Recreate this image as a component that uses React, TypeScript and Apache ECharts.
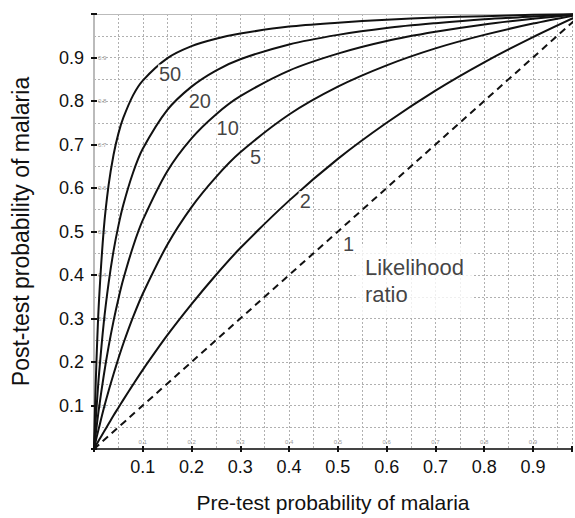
import React, { useEffect, useRef } from "react";
import * as echarts from "echarts";

// Pre-test probability (x) sample points
const pre = [0, 0.0025, 0.005, 0.01, 0.02, 0.03, 0.04, 0.05, 0.06, 0.08, 0.1, 0.15, 0.2, 0.25, 0.3, 0.4, 0.5, 0.6, 0.7, 0.8, 0.9, 1.0];
// Post-test probability for each likelihood ratio
const lr50 = [0, 0.111, 0.201, 0.336, 0.505, 0.607, 0.676, 0.725, 0.761, 0.813, 0.847, 0.898, 0.926, 0.943, 0.955, 0.971, 0.98, 0.987, 0.992, 0.995, 0.998, 1];
const lr20 = [0, 0.048, 0.091, 0.168, 0.29, 0.382, 0.455, 0.513, 0.561, 0.635, 0.69, 0.779, 0.833, 0.87, 0.896, 0.93, 0.952, 0.968, 0.979, 0.988, 0.994, 1];
const lr10 = [0, 0.024, 0.048, 0.092, 0.169, 0.236, 0.294, 0.345, 0.39, 0.465, 0.526, 0.638, 0.714, 0.769, 0.811, 0.87, 0.909, 0.938, 0.959, 0.976, 0.989, 1];
const lr5 = [0, 0.012, 0.025, 0.048, 0.093, 0.134, 0.172, 0.208, 0.242, 0.303, 0.357, 0.469, 0.556, 0.625, 0.682, 0.769, 0.833, 0.882, 0.921, 0.952, 0.978, 1];
const lr2 = [0, 0.005, 0.01, 0.02, 0.039, 0.058, 0.077, 0.095, 0.113, 0.148, 0.182, 0.261, 0.333, 0.4, 0.462, 0.571, 0.667, 0.75, 0.824, 0.889, 0.947, 1];
const lr1x = [0, 1];
const lr1 = [0, 1];

// Curve labels (data coordinates)
const curveLabels = ["50", "20", "10", "5", "2", "1"];
const labelX = [0.156, 0.217, 0.274, 0.331, 0.433, 0.522];
const labelY = [0.861, 0.799, 0.737, 0.672, 0.57, 0.471];
const legendText = "Likelihood\nratio";
const legendPos = [0.539, 0.386];

const FONT = '"Liberation Sans", Arial, Helvetica, sans-serif';
const INK = "#111";

const zip = (xs: number[], ys: number[]) => xs.map((x, i) => [x, ys[i]]);

const tickFmt = (v: number) => {
  const r = Math.round(v * 10);
  if (Math.abs(v * 10 - r) > 1e-6 || r <= 0 || r >= 10) return "";
  return (r / 10).toFixed(1);
};

export default function App() {
  const ref = useRef<HTMLDivElement>(null);
  useEffect(() => {
    if (!ref.current) return;
    const chart = echarts.init(ref.current, null, { renderer: "svg" });
    const gridLine = { color: "#b0b0b0", width: 1, type: [2, 2] as any };
    const curve = (name: string, ys: number[], dashed = false, xs = pre) => ({
      type: "line",
      name,
      data: zip(xs, ys),
      xAxisIndex: 0,
      yAxisIndex: 0,
      smooth: 0.3,
      showSymbol: false,
      symbol: "none",
      lineStyle: { color: INK, width: 2, type: dashed ? [7, 5] : "solid" },
      z: 3,
    });
    const labelData: any[] = curveLabels.map((t, i) => ({
      name: t,
      value: [labelX[i], labelY[i]],
    }));
    labelData.push({
      name: legendText,
      value: legendPos,
      label: {
        align: "left",
        verticalAlign: "middle",
        fontSize: 22,
        lineHeight: 27,
        padding: [8, 8, 8, 8],
        backgroundColor: "#fff",
      },
    });
    chart.setOption({
      animation: false,
      backgroundColor: "#fff",
      grid: {
        left: 94,
        top: 14,
        right: 0,
        height: 435,
        show: false,
      },
      xAxis: [
        {
          type: "value",
          min: 0,
          max: 0.98,
          interval: 0.1,
          position: "bottom",
          axisLine: { show: true, lineStyle: { color: "#444", width: 2 } },
          axisTick: { show: true, length: 3, lineStyle: { color: INK, width: 2 } },
          axisLabel: { fontSize: 18, color: INK, fontFamily: FONT, margin: 9, formatter: tickFmt },
          splitLine: { show: true, lineStyle: gridLine },
          minorTick: { show: false, splitNumber: 2 },
          minorSplitLine: { show: true, lineStyle: gridLine },
          name: "Pre-test probability of malaria",
          nameLocation: "middle",
          nameGap: 43,
          nameTextStyle: { fontSize: 21, color: INK, fontFamily: FONT },
        },
        {
          type: "value",
          min: 0,
          max: 0.98,
          interval: 0.1,
          position: "bottom",
          axisLine: { show: false },
          axisTick: { show: true, inside: true, length: 3, lineStyle: { color: INK, width: 2 } },
          axisLabel: { inside: true, fontSize: 6, color: "#999", fontFamily: FONT, margin: 4, formatter: tickFmt },
          splitLine: { show: false },
        },
        {
          type: "value",
          min: 0,
          max: 0.98,
          position: "top",
          axisLine: { show: true, lineStyle: { color: "#bbb", width: 1 } },
          axisTick: { show: false },
          axisLabel: { show: false },
          splitLine: { show: false },
        },
      ],
      yAxis: [
        {
          type: "value",
          min: 0,
          max: 1,
          interval: 0.1,
          position: "left",
          axisLine: { show: true, lineStyle: { color: "#bbb", width: 2 } },
          axisTick: { show: true, length: 3, lineStyle: { color: INK, width: 2 } },
          axisLabel: { fontSize: 18, color: INK, fontFamily: FONT, margin: 10, formatter: tickFmt },
          splitLine: { show: true, lineStyle: gridLine },
          minorTick: { show: false, splitNumber: 2 },
          minorSplitLine: { show: true, lineStyle: gridLine },
          name: "Post-test probability of malaria",
          nameLocation: "middle",
          nameRotate: 90,
          nameGap: 62,
          nameTextStyle: { fontSize: 23, color: INK, fontFamily: FONT },
        },
        {
          type: "value",
          min: 0,
          max: 1,
          interval: 0.1,
          position: "left",
          axisLine: { show: false },
          axisTick: { show: true, inside: true, length: 3, lineStyle: { color: INK, width: 2 } },
          axisLabel: { inside: true, fontSize: 6, color: "#999", fontFamily: FONT, margin: 4, formatter: tickFmt },
          splitLine: { show: false },
        },
      ],
      series: [
        curve("50", lr50),
        curve("20", lr20),
        curve("10", lr10),
        curve("5", lr5),
        curve("2", lr2),
        curve("1", lr1, true, lr1x),
        {
          type: "scatter",
          xAxisIndex: 0,
          yAxisIndex: 0,
          data: labelData,
          symbol: "circle",
          symbolSize: 1,
          itemStyle: { color: "rgba(0,0,0,0)" },
          z: 5,
          label: {
            show: true,
            position: "inside",
            formatter: "{b}",
            fontSize: 20,
            color: INK,
            fontFamily: FONT,
            backgroundColor: "#fff",
            padding: [0, 1],
          },
        },
      ],
    });
    return () => chart.dispose();
  }, []);
  return (
    <div
      ref={ref}
      style={{ position: "absolute", left: 0, top: 0, width: 575, height: 518, overflow: "hidden" }}
    />
  );
}
